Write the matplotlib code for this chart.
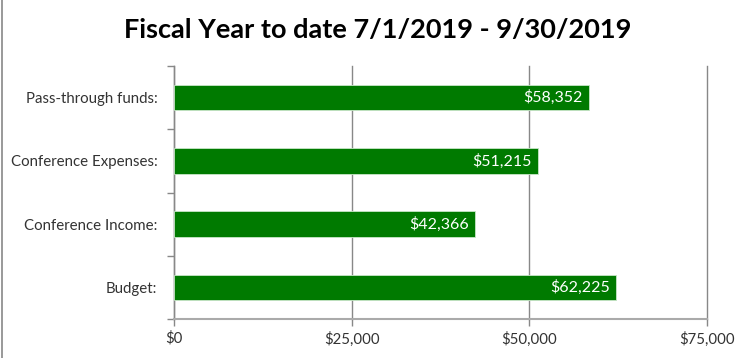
import matplotlib
matplotlib.use("Agg")
import matplotlib.pyplot as plt
from matplotlib.ticker import FuncFormatter, FixedLocator

categories = ["Budget:", "Conference Income:", "Conference Expenses:", "Pass-through funds:"]
values = [62225, 42366, 51215, 58352]
x_ticks = [0, 25000, 50000, 75000]
title = "Fiscal Year to date 7/1/2019 - 9/30/2019"

plt.rcParams['font.family'] = ['Lato', 'DejaVu Sans']

fig = plt.figure(figsize=(7.51, 3.58), dpi=100)
ax = fig.add_axes([174/751, 1-319/358, (707-174)/751, (319-66)/358])

ypos = list(range(len(categories)))
bars = ax.barh(ypos, values, height=0.4, color="#007A00", edgecolor="#c8e6c8", linewidth=0.6, zorder=3)
for y, v in zip(ypos, values):
    ax.text(v - 900, y, f"${v:,.0f}", ha="right", va="center", color="white",
            fontsize=11.5, zorder=4)

ax.set_xlim(0, 75000)
ax.set_ylim(-0.5, len(categories) - 0.5)
ax.set_xticks(x_ticks)
ax.xaxis.set_major_formatter(FuncFormatter(lambda v, p: f"${v:,.0f}"))
ax.set_yticks(ypos)
ax.set_yticklabels(categories)
ax.yaxis.set_minor_locator(FixedLocator([i - 0.5 for i in range(len(categories) + 1)]))
ax.tick_params(axis="y", which="major", length=0, pad=12, labelsize=10.8, labelcolor="#333333")
ax.tick_params(axis="y", which="minor", length=5, color="#888888", width=1)
ax.tick_params(axis="x", which="major", length=5, color="#888888", width=1, labelsize=10.8,
               labelcolor="#333333", pad=4)

ax.grid(axis="x", color="#888888", linewidth=1, zorder=0)
for gl in ax.get_xgridlines():
    gl.set_clip_on(False)
for s in ["top", "right"]:
    ax.spines[s].set_visible(False)
ax.spines["left"].set_color("#888888")
ax.spines["bottom"].set_color("#aaaaaa")
ax.spines["left"].set_linewidth(1)
ax.spines["bottom"].set_linewidth(1.5)

fig.text(0.503, 1 - 30/358, title, ha="center", va="center", fontsize=19.5, fontweight="bold", color="#000000")

fig.add_artist(plt.Line2D([2/751, 2/751], [0, 1], transform=fig.transFigure, color="#888888", linewidth=1.2))

fig.savefig("out.png", dpi=100)
